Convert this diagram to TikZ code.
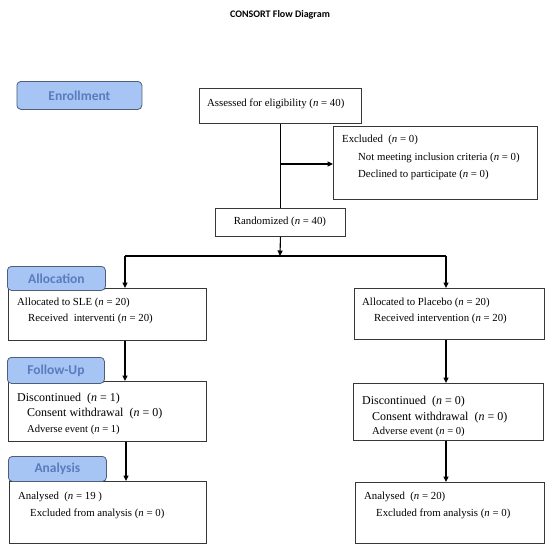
\documentclass[tikz,border=0pt]{standalone}
\usepackage{fontspec}
\setmainfont{Liberation Serif}
\newfontfamily\labfont{Carlito}
\usetikzlibrary{arrows.meta}
\definecolor{labfill}{RGB}{166,196,244}
\definecolor{labtext}{RGB}{90,124,188}
\definecolor{labline}{RGB}{80,95,120}
\definecolor{boxline}{RGB}{55,55,55}
\newcommand{\enn}{\textit{n}}
\begin{document}
\begin{tikzpicture}[x=1pt,y=-1pt,
 box/.style={draw=boxline, line width=0.9pt, anchor=north west, inner sep=0pt, fill=white},
 lab/.style={draw=labline, line width=0.8pt, fill=labfill, rounded corners=4pt, anchor=north west, inner sep=0pt, text=labtext, font=\labfont\bfseries\fontsize{13.5}{15}\selectfont},
 txt/.style={anchor=west, inner sep=0pt, font=\fontsize{10.8}{13}\selectfont},
 big/.style={anchor=west, inner sep=0pt, font=\fontsize{12}{14}\selectfont},
 sml/.style={anchor=west, inner sep=0pt, font=\fontsize{10.6}{12}\selectfont},
 ttl/.style={inner sep=0pt, font=\labfont\bfseries\fontsize{10}{12}\selectfont},
 conn/.style={line width=1.1pt, black},
 arr/.style={conn, -{Triangle[length=5.5pt,width=5pt]}}]
\fill[white] (0,0) rectangle (550,544);
\useasboundingbox (0,0) rectangle (550,544);

\node[ttl] (title) at (280,15) {CONSORT Flow Diagram};

% boxes
\node[box, minimum width=162pt, minimum height=35pt] (assess) at (199,88) {};
\node[box, minimum width=204pt, minimum height=73pt] (excl) at (333,126) {};
\node[box, minimum width=130pt, minimum height=28pt] (rand) at (215,208) {};
\node[box, minimum width=198pt, minimum height=52pt] (alloc1) at (8,288) {};
\node[box, minimum width=190pt, minimum height=51pt] (alloc2) at (354,288) {};
\node[box, minimum width=198pt, minimum height=60pt] (disc1) at (8,381) {};
\node[box, minimum width=190pt, minimum height=57pt] (disc2) at (353,383) {};
\node[box, minimum width=197pt, minimum height=62pt] (ana1) at (9,481) {};
\node[box, minimum width=189pt, minimum height=61pt] (ana2) at (355,482) {};

% texts
\node[txt] (t-assess) at (207,104) {Assessed for eligibility (\enn{} = 40)};
\node[txt] (t-ex1) at (342,140) {Excluded\ \ (\enn{} = 0)};
\node[txt] (t-ex2) at (358,158) {Not meeting inclusion criteria (\enn{} = 0)};
\node[txt] (t-ex3) at (358,175) {Declined to participate (\enn{} = 0)};
\node[txt, anchor=center] (t-rand) at (280,222) {Randomized (\enn{} = 40)};
\node[txt] (t-a1) at (17,303) {Allocated to SLE (\enn{} = 20)};
\node[txt] (t-a2) at (28,319) {Received\ \ interventi (\enn{} = 20)};
\node[txt] (t-b1) at (362,303) {Allocated to Placebo (\enn{} = 20)};
\node[txt] (t-b2) at (374,319) {Received intervention (\enn{} = 20)};
\node[big] (t-c1) at (17,399) {Discontinued\ \ (\enn{} = 1)};
\node[big] (t-c2) at (27,414) {Consent withdrawal\ \ (\enn{} = 0)};
\node[sml] (t-c3) at (27,430) {Adverse event (\enn{} = 1)};
\node[big] (t-d1) at (362,402) {Discontinued\ \ (\enn{} = 0)};
\node[big] (t-d2) at (372,418) {Consent withdrawal\ \ (\enn{} = 0)};
\node[sml] (t-d3) at (372,432) {Adverse event (\enn{} = 0)};
\node[txt] (t-e1) at (18,497) {Analysed\ \ (\enn{} = 19 )};
\node[txt] (t-e2) at (30,514) {Excluded from analysis (\enn{} = 0)};
\node[txt] (t-f1) at (364,497) {Analysed\ \ (\enn{} = 20)};
\node[txt] (t-f2) at (376,514) {Excluded from analysis (\enn{} = 0)};

% connectors
\coordinate (join) at (280,164);
\coordinate (split) at (280,256);
\coordinate (L) at (125,256);
\coordinate (R) at (446,256);
\draw[conn] (assess.south) -- (rand.north);
\draw[arr] (join) -- (join -| excl.west);
\draw[arr] (rand.south) -- (split);
\draw[conn] (L) -- (R);
\draw[arr] (L) -- (L |- alloc1.north);
\draw[arr] (R) -- (R |- alloc2.north);
\draw[arr] (alloc1.south -| L) -- (disc1.north -| L);
\draw[arr] (alloc2.south -| R) -- (disc2.north -| R);
\draw[arr] ([xshift=1pt]disc1.south -| L) -- ([xshift=1pt]ana1.north -| L);
\draw[arr] (disc2.south -| R) -- (ana2.north -| R);

% stage labels
\node[lab, minimum width=125pt, minimum height=28pt] (enroll) at (16.5,81) {Enrollment};
\node[lab, minimum width=98pt, minimum height=24pt] (allocl) at (7,266) {Allocation};
\node[lab, minimum width=97pt, minimum height=26pt] (follow) at (7,357) {Follow-Up};
\node[lab, minimum width=98pt, minimum height=25pt] (anal) at (8,456) {Analysis};
\end{tikzpicture}
\end{document}
